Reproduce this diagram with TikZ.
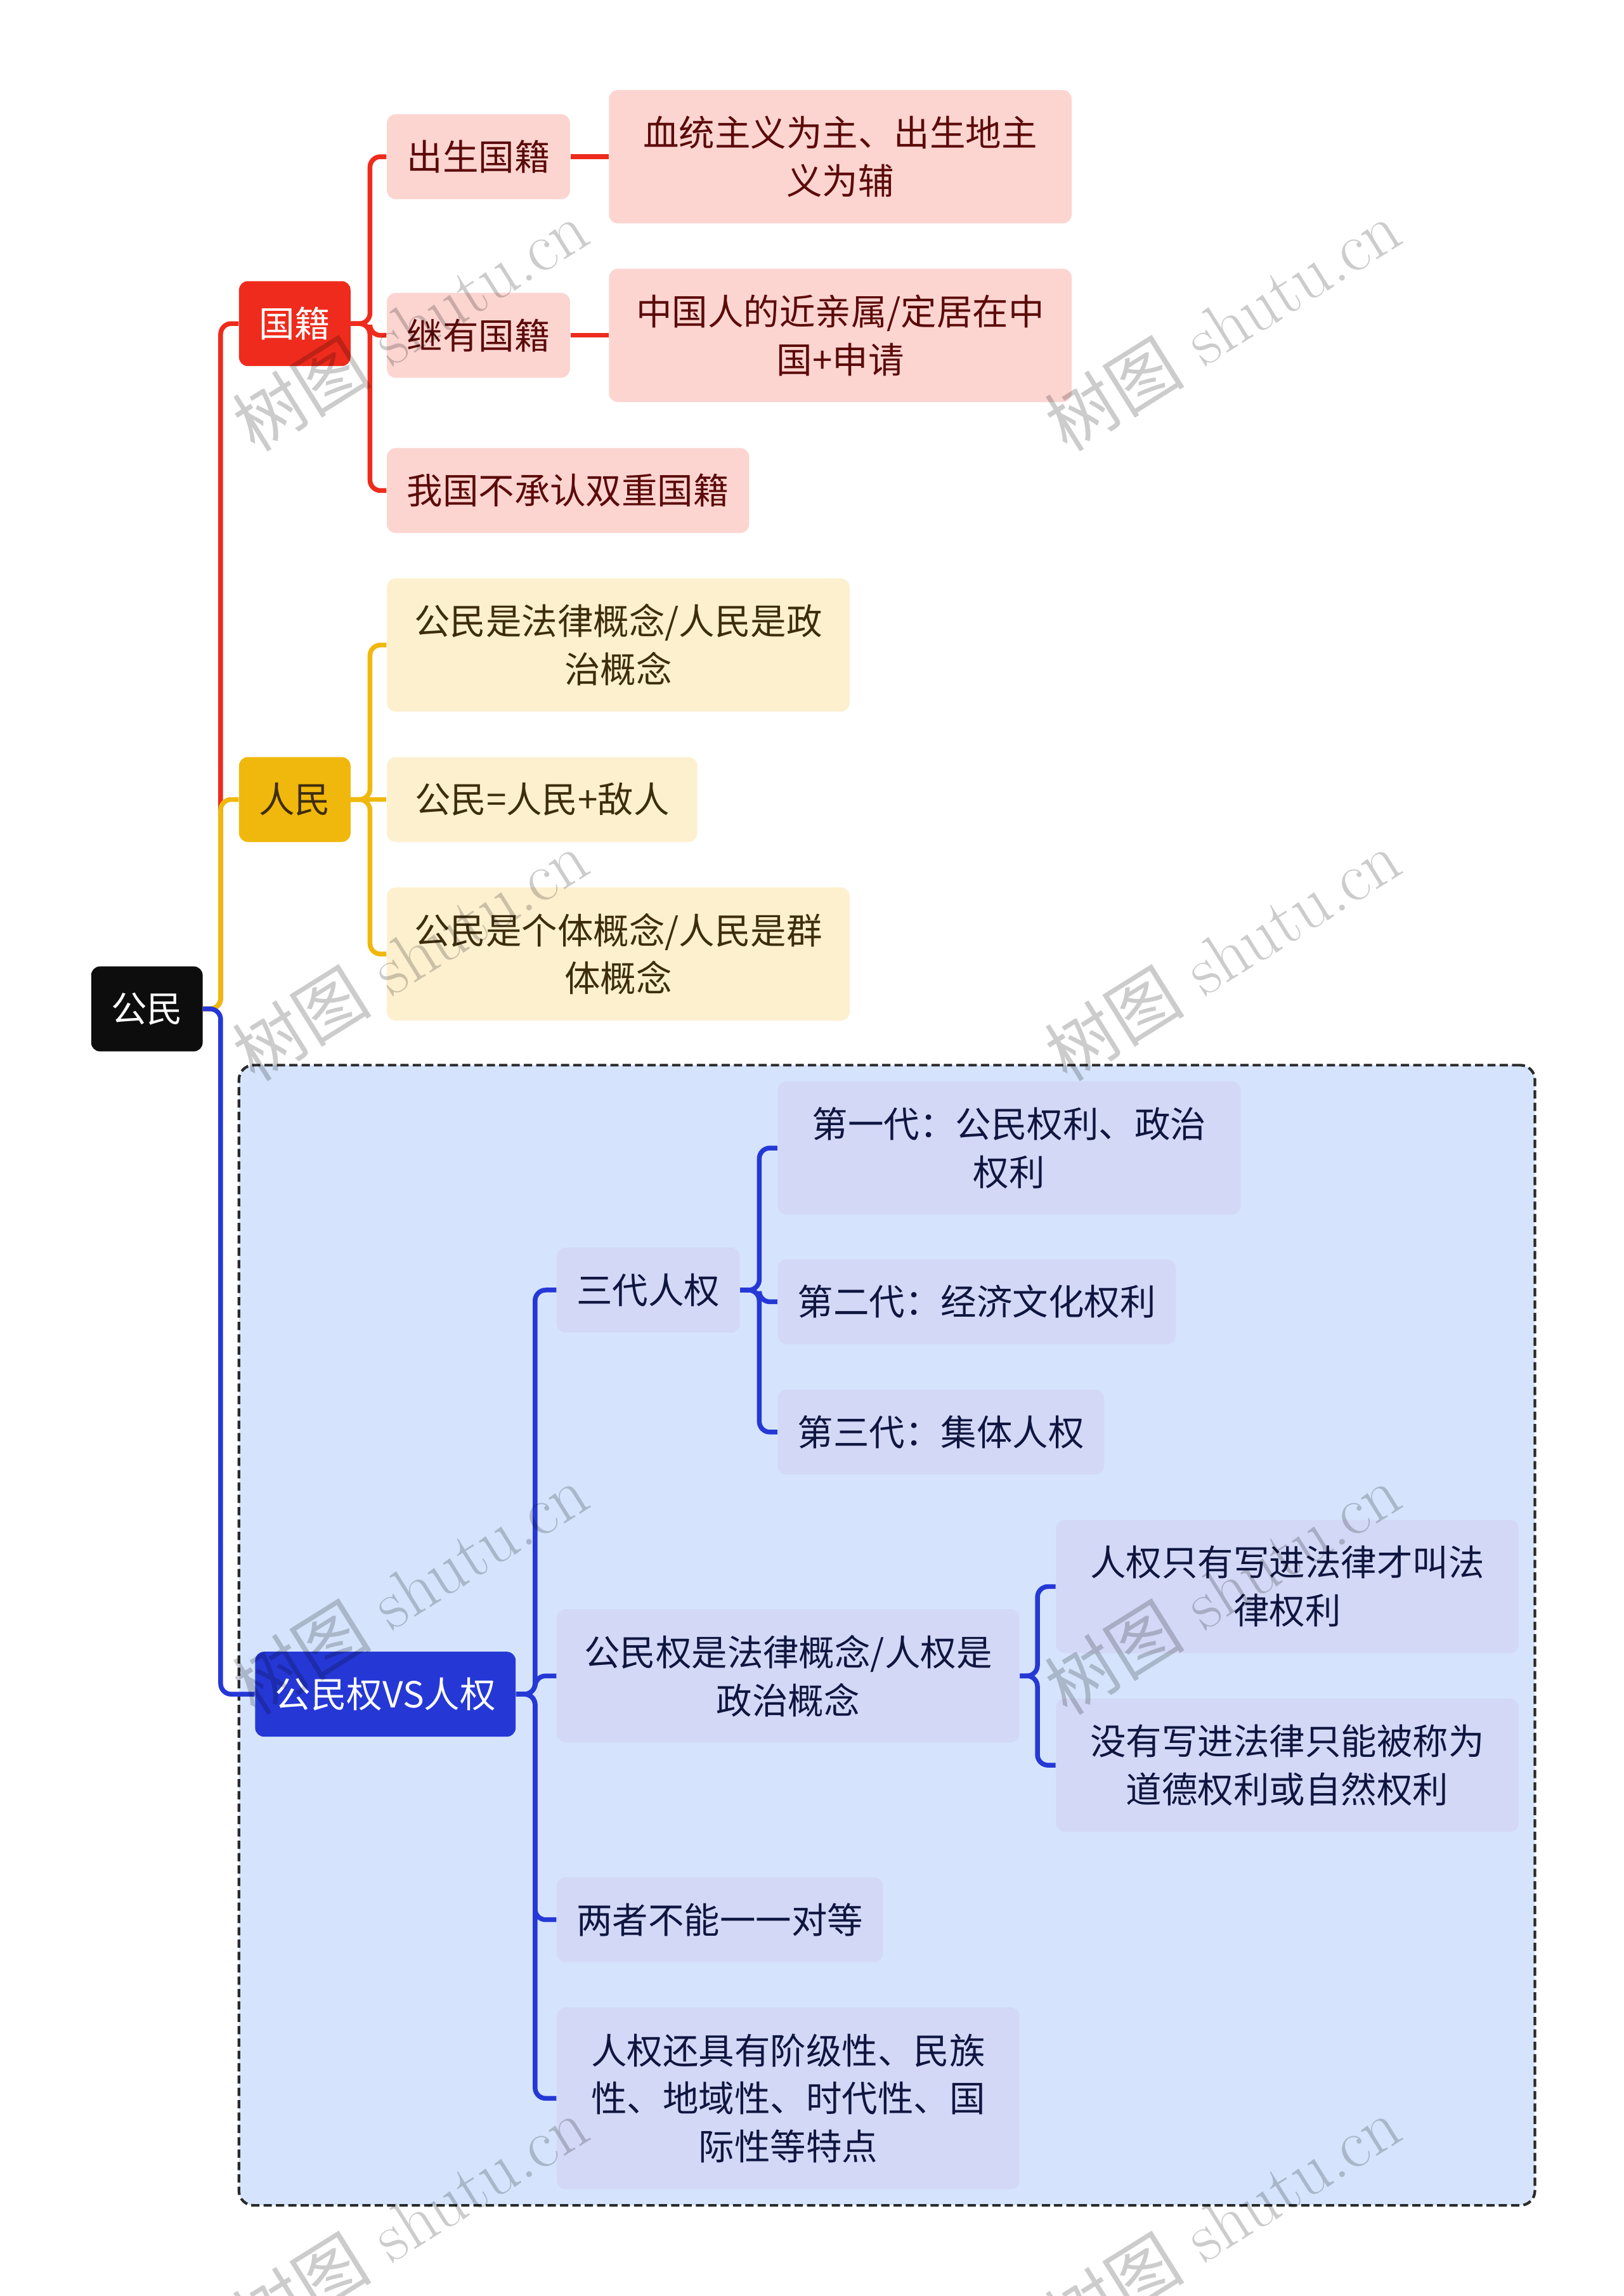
\documentclass[tikz,border=0pt]{standalone}
\usepackage{fontspec}
\newfontfamily\cjk{Noto Sans CJK SC}
\usetikzlibrary{
    positioning,
    fit,
    backgrounds
}
\definecolor{rootblack}{HTML}{0D0D0D}
\definecolor{natred}{HTML}{EE2B1C}
\definecolor{natfill}{HTML}{FCD5D1}
\definecolor{nattext}{HTML}{5C0A0A}
\definecolor{popyellow}{HTML}{F0B80C}
\definecolor{popfill}{HTML}{FDF0CF}
\definecolor{poptext}{HTML}{3D2D0D}
\definecolor{rightblue}{HTML}{2538D6}
\definecolor{rightfill}{HTML}{D3D8F6}
\definecolor{righttext}{HTML}{0E1640}
\definecolor{groupfill}{HTML}{D5E4FC}
\definecolor{groupline}{HTML}{2A2A2A}

\begin{document}
\begin{tikzpicture}[
    x=0.025cm, y=-0.025cm,
    box/.style={rectangle, rounded corners=0.15cm, align=center, inner xsep=0.34cm, inner ysep=0.2cm,
        minimum height=1.45cm, font=\cjk\fontsize{17.4}{23.4}\selectfont},
    wide/.style={minimum width=7.9cm},
    twoline/.style={minimum height=2.275cm},
    threeline/.style={minimum height=3.1cm},
    rootbox/.style={box, anchor=west, fill=rootblack, text=white},
    natbox/.style={box, anchor=west, fill=natred, text=white},
    popbox/.style={box, anchor=west, fill=popyellow, text=poptext},
    rightbox/.style={box, anchor=west, fill=rightblue, text=white},
    natleaf/.style={box, anchor=west, fill=natfill, text=nattext},
    popleaf/.style={box, anchor=west, fill=popfill, text=poptext},
    rightleaf/.style={box, anchor=west, fill=rightfill, text=righttext},
    link/.style={line width=2.3pt, rounded corners=0.18cm},
    natlink/.style={link, draw=natred},
    poplink/.style={link, draw=popyellow},
    rightlink/.style={link, draw=rightblue},
    group/.style={draw=groupline, line width=1.3pt, dashed, dash pattern=on 4pt off 2pt, fill=groupfill, rounded corners=0.25cm, inner sep=0.27cm},
    wmark/.style={rotate=32, text=black, text opacity=0.2, font=\fontsize{34}{34}\selectfont},
]
\useasboundingbox (0,0) rectangle (1109,1568);

% root and main branches
\node[rootbox, minimum width=1.875cm] (citizen) at (62,689) {公民};
\node[natbox, minimum width=1.875cm] (nation) at (163,221) {国籍};
\node[popbox, minimum width=1.875cm] (people) at (163,546) {人民};
\node[rightbox] (rights) at (174,1157) {公民权VS人权};

% nationality
\node[natleaf] (birth) at (264,107) {出生国籍};
\node[natleaf, wide, twoline, right=0.65cm of birth] (birthnote) {血统主义为主、出生地主\\义为辅};
\node[natleaf] (inherit) at (264,229) {继有国籍};
\node[natleaf, wide, twoline, right=0.65cm of inherit] (inheritnote) {中国人的近亲属/定居在中\\国+申请};
\node[natleaf] (nodual) at (264,335) {我国不承认双重国籍};

% people
\node[popleaf, wide, twoline] (legal) at (264,440.5) {公民是法律概念/人民是政\\治概念};
\node[popleaf, minimum width=5.3cm] (equation) at (264,546) {公民=人民+敌人};
\node[popleaf, wide, twoline] (individual) at (264,651.5) {公民是个体概念/人民是群\\体概念};

% citizen rights vs human rights
\node[rightleaf] (threegen) at (380,881) {三代人权};
\node[rightleaf, wide, twoline] (gen1) at (531,784) {第一代：公民权利、政治\\权利};
\node[rightleaf] (gen2) at (531,889) {第二代：经济文化权利};
\node[rightleaf] (gen3) at (531,978) {第三代：集体人权};
\node[rightleaf, wide, twoline] (concept) at (380,1144.5) {公民权是法律概念/人权是\\政治概念};
\node[rightleaf, wide, twoline] (written) at (721,1083.5) {人权只有写进法律才叫法\\律权利};
\node[rightleaf, wide, twoline] (unwritten) at (721,1205.5) {没有写进法律只能被称为\\道德权利或自然权利};
\node[rightleaf] (noequal) at (380,1311) {两者不能一一对等};
\node[rightleaf, wide, threeline] (features) at (380,1433) {人权还具有阶级性、民族\\性、地域性、时代性、国\\际性等特点};

\begin{scope}[on background layer]
\node[group, fit=(rights)(gen1)(written)(features)] (rightgroup) {};
\end{scope}

% connectors
\draw[natlink] (citizen.east) -- ++(0.3cm,0) |- (nation.west);
\draw[poplink] (citizen.east) -- ++(0.3cm,0) |- (people.west);
\draw[rightlink] (citizen.east) -- ++(0.3cm,0) |- (rights.west);

\foreach \c in {birth,inherit,nodual}
    \draw[natlink] (nation.east) -- ++(0.325cm,0) |- (\c.west);
\draw[natlink] (birth) -- (birthnote);
\draw[natlink] (inherit) -- (inheritnote);

\foreach \c in {legal,individual}
    \draw[poplink] (people.east) -- ++(0.325cm,0) |- (\c.west);
\draw[poplink] (people) -- (equation);

\foreach \c in {threegen,concept,noequal,features}
    \draw[rightlink] (rights.east) -- ++(0.325cm,0) |- (\c.west);
\foreach \c in {gen1,gen2,gen3}
    \draw[rightlink] (threegen.east) -- ++(0.325cm,0) |- (\c.west);
\foreach \c in {written,unwritten}
    \draw[rightlink] (concept.east) -- ++(0.3cm,0) |- (\c.west);

% watermarks
\foreach \wx in {280,835}
    \foreach \wy in {222,652,1085,1517}
        \node[wmark] (wm-\wx-\wy) at (\wx,\wy) {{\cjk 树图} shutu.cn};
\end{tikzpicture}
\end{document}
